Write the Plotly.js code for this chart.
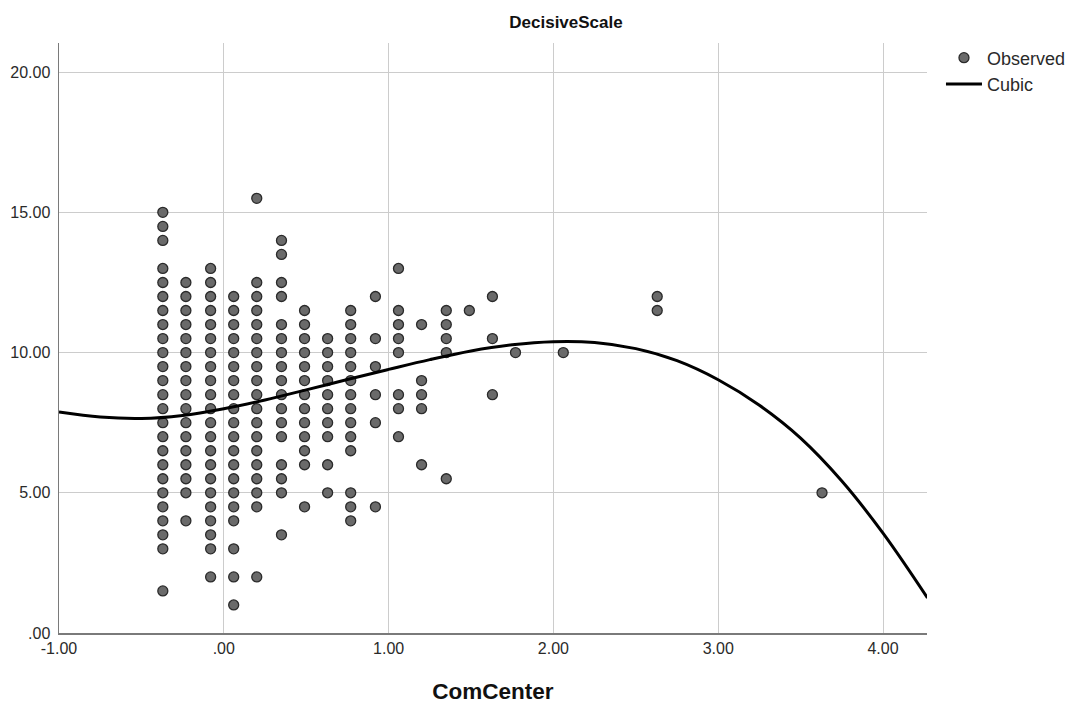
<!DOCTYPE html>
<html>
<head>
<meta charset="utf-8">
<script src="https://cdn.plot.ly/plotly-3.0.1.min.js"></script>
<style>
  html, body { margin: 0; padding: 0; background: #ffffff; }
  #chart { width: 1071px; height: 708px; }
</style>
</head>
<body>
<div id="chart"></div>
<script>
// ComCenter column positions (x) and DecisiveScale values observed in each column
const colX = [-0.37, -0.23, -0.08, 0.06, 0.20, 0.35, 0.49, 0.63, 0.77, 0.92, 1.06, 1.20, 1.35, 1.49, 1.63, 1.77, 2.06, 2.63, 3.63];
const colY00 = [1.5, 3, 3.5, 4, 4.5, 5, 5.5, 6, 6.5, 7, 7.5, 8, 8.5, 9, 9.5, 10, 10.5, 11, 11.5, 12, 12.5, 13, 14, 14.5, 15];
const colY01 = [4, 5, 5.5, 6, 6.5, 7, 7.5, 8, 8.5, 9, 9.5, 10, 10.5, 11, 11.5, 12, 12.5];
const colY02 = [2, 3, 3.5, 4, 4.5, 5, 5.5, 6, 6.5, 7, 7.5, 8, 8.5, 9, 9.5, 10, 10.5, 11, 11.5, 12, 12.5, 13];
const colY03 = [1, 2, 3, 4, 4.5, 5, 5.5, 6, 6.5, 7, 7.5, 8, 8.5, 9, 9.5, 10, 10.5, 11, 11.5, 12];
const colY04 = [2, 4.5, 5, 5.5, 6, 6.5, 7, 7.5, 8, 8.5, 9, 9.5, 10, 10.5, 11, 11.5, 12, 12.5, 15.5];
const colY05 = [3.5, 5, 5.5, 6, 7, 7.5, 8, 8.5, 9, 9.5, 10, 10.5, 11, 12, 12.5, 13.5, 14];
const colY06 = [4.5, 6, 6.5, 7, 7.5, 8, 8.5, 9, 9.5, 10, 10.5, 11, 11.5];
const colY07 = [5, 6, 7, 7.5, 8, 8.5, 9, 9.5, 10, 10.5];
const colY08 = [4, 4.5, 5, 6.5, 7, 7.5, 8, 8.5, 9, 9.5, 10, 10.5, 11, 11.5];
const colY09 = [4.5, 7.5, 8.5, 9.5, 10.5, 12];
const colY10 = [7, 8, 8.5, 10, 10.5, 11, 11.5, 13];
const colY11 = [6, 8, 8.5, 9, 11];
const colY12 = [5.5, 10, 10.5, 11, 11.5];
const colY13 = [11.5];
const colY14 = [8.5, 10.5, 12];
const colY15 = [10];
const colY16 = [10];
const colY17 = [11.5, 12];
const colY18 = [5];
const colYs = [colY00, colY01, colY02, colY03, colY04, colY05, colY06, colY07, colY08, colY09,
               colY10, colY11, colY12, colY13, colY14, colY15, colY16, colY17, colY18];

// Cubic fit curve
const cubicX = [-1, -0.75, -0.5, -0.25, 0, 0.25, 0.5, 0.75, 1, 1.25, 1.5, 1.75, 2, 2.25, 2.5, 2.75, 3, 3.25, 3.5, 3.75, 4, 4.27];
const cubicY = [7.88, 7.70, 7.65, 7.76, 8.00, 8.31, 8.67, 9.04, 9.40, 9.75, 10.06, 10.28, 10.39, 10.36, 10.14, 9.71, 9.03, 8.12, 6.95, 5.42, 3.56, 1.25];

// Tick labels
const xTickVals = [-1, 0, 1, 2, 3, 4];
const xTickText = ['-1.00', '.00', '1.00', '2.00', '3.00', '4.00'];
const yTickVals = [0, 5, 10, 15, 20];
const yTickText = ['.00', '5.00', '10.00', '15.00', '20.00'];

const obsX = [], obsY = [];
colX.forEach((cx, i) => {
  colYs[i].forEach(v => { obsX.push(cx); obsY.push(v); });
});

const traces = [
  {
    type: 'scatter', mode: 'markers', name: 'Observed',
    x: obsX, y: obsY,
    marker: { symbol: 'circle', size: 10, color: '#6a6a6a', line: { color: '#2a2a2a', width: 1.3 } },
    cliponaxis: true
  },
  {
    type: 'scatter', mode: 'lines', name: 'Cubic',
    x: cubicX, y: cubicY,
    line: { color: '#000000', width: 3, shape: 'spline', smoothing: 1 }
  }
];

const fontFam = 'Liberation Sans, Arial, sans-serif';

const layout = {
  width: 1071, height: 708,
  paper_bgcolor: '#ffffff', plot_bgcolor: '#ffffff',
  margin: { l: 59, r: 144, t: 43, b: 75, pad: 0, autoexpand: false },
  font: { family: fontFam, color: '#222222', size: 14 },
  title: {
    text: '<b>DecisiveScale</b>',
    font: { family: fontFam, size: 17, color: '#111111' },
    x: 566 / 1071, xanchor: 'center', xref: 'container',
    y: 1 - 22 / 708, yanchor: 'middle', yref: 'container'
  },
  xaxis: {
    range: [-1, 4.267],
    tickvals: xTickVals, ticktext: xTickText,
    ticks: '', showgrid: true, gridcolor: '#cccccc', gridwidth: 1,
    zeroline: false, showline: true, linecolor: '#7a7a7a', linewidth: 1.5,
    tickfont: { family: fontFam, size: 16, color: '#2a2a2a' },
    ticklabelstandoff: 0,
    title: { text: '<b>ComCenter</b>', font: { family: fontFam, size: 22.5, color: '#111111' }, standoff: 27 },
    automargin: false
  },
  yaxis: {
    range: [0, 21.04],
    tickvals: yTickVals, ticktext: yTickText,
    ticks: '', showgrid: true, gridcolor: '#cccccc', gridwidth: 1,
    zeroline: false, showline: true, linecolor: '#7a7a7a', linewidth: 1.5,
    tickfont: { family: fontFam, size: 16, color: '#2a2a2a' },
    ticklabelstandoff: 4,
    automargin: false
  },
  showlegend: true,
  legend: {
    x: 1.0161, xanchor: 'left', y: 1.006, yanchor: 'top',
    bgcolor: 'rgba(0,0,0,0)', borderwidth: 0,
    font: { family: fontFam, size: 18, color: '#2a2a2a' },
    itemwidth: 36, tracegroupgap: 0
  }
};

Plotly.newPlot('chart', traces, layout, { staticPlot: true, displayModeBar: false });
</script>
</body>
</html>
